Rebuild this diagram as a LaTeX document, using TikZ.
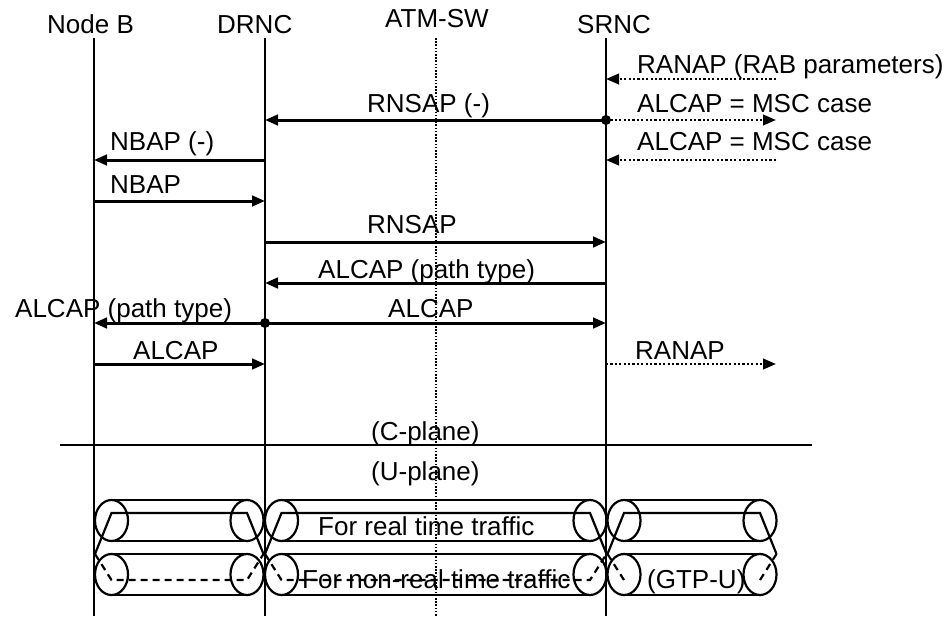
\documentclass[tikz,border=0pt]{standalone}
\usepackage{fontspec}
\setmainfont{Liberation Sans}
\usetikzlibrary{arrows.meta}
\newcommand\mycable[3]{%
  % #1 left centre x, #2 right centre x, #3 = 1 draw dashed bottom run
  \draw[tube] (#1,520.5) ellipse [x radius=16.5, y radius=20.5];
  \draw[tube] (#2,520.5) ellipse [x radius=16.5, y radius=20.5];
  \draw[tube] (#1,574.5) ellipse [x radius=16.5, y radius=20.5];
  \draw[tube] (#2,574.5) ellipse [x radius=16.5, y radius=20.5];
  \draw[tube] (#1,500) -- (#2,500);
  \draw[tube] (#1,541) -- (#2,541);
  \draw[tube] (#1,554) -- (#2,554);
  \draw[tube] (#1,595) -- (#2,595);
  \draw[tube] ({#1-16.5},554) -- (#1,513) -- (#2,513) -- ({#2+16.5},554);
  \ifnum#3=1
    \draw[tube,hid] ({#1-16.5},554) -- (#1,580) -- (#2,580) -- ({#2+16.5},554);
  \else
    \draw[tube,hid] ({#1-16.5},554) -- (#1,580);
    \draw[tube,hid] (#2,580) -- ({#2+16.5},554);
  \fi
}
\begin{document}
\begin{tikzpicture}[x=1pt,y=-1pt,
  lbl/.style={anchor=base west, inner sep=0pt, font=\fontsize{26}{30}\selectfont},
  life/.style={line width=2.3pt},
  msg/.style={line width=3pt, -{Triangle[length=13pt,width=10.5pt]}},
  dmsg/.style={line width=2.4pt, dash pattern=on 2.2pt off 2.2pt, -{Triangle[length=13pt,width=10.5pt]}},
  tube/.style={line width=2.2pt},
  hid/.style={dash pattern=on 7pt off 5pt},
  junction/.style={circle, fill=black, inner sep=0pt, minimum size=10pt},
]
\useasboundingbox (0,0) rectangle (950,616);

% headers
\node[lbl] (hNB) at (47,33) {Node B};
\node[lbl] (hDR) at (217,33) {DRNC};
\node[lbl] (hAT) at (385,27) {ATM-SW};
\node[lbl] (hSR) at (577,33) {SRNC};

% lifelines
\coordinate (nbT) at (94,38);  \coordinate (nbB) at (94,616);
\coordinate (drT) at (265,38); \coordinate (drB) at (265,616);
\coordinate (atT) at (436,38); \coordinate (atB) at (436,616);
\coordinate (srT) at (606,38); \coordinate (srB) at (606,616);
\draw[life] (nbT) -- (nbB);
\draw[life] (drT) -- (drB);
\draw[life] (srT) -- (srB);
\draw[line width=1.6pt, dash pattern=on 1.6pt off 1.6pt] (atT) -- (atB);

% row coordinates
\coordinate (r1e) at (776,79);  \coordinate (r1s) at (606,79);
\coordinate (r2s) at (606,120); \coordinate (r2d) at (265,120); \coordinate (r2e) at (776,120);
\coordinate (r3e) at (776,160); \coordinate (r3s) at (606,160);
\coordinate (r3d) at (265,160); \coordinate (r3n) at (94,160);
\coordinate (r4n) at (94,201);  \coordinate (r4d) at (265,201);
\coordinate (r5d) at (265,242); \coordinate (r5s) at (606,242);
\coordinate (r6s) at (606,283); \coordinate (r6d) at (265,283);
\coordinate (r7d) at (265,323); \coordinate (r7n) at (94,323); \coordinate (r7s) at (606,323);
\coordinate (r8n) at (94,364);  \coordinate (r8d) at (265,364);
\coordinate (r8s) at (606,364); \coordinate (r8e) at (776,364);

% messages
\draw[dmsg] (r1e) -- (r1s);
\node[lbl] (l1) at (637,73) {RANAP (RAB parameters)};
\draw[msg] (r2s) -- (r2d);
\node[lbl] (l2) at (367,112) {RNSAP (-)};
\draw[dmsg] (r2s) -- (r2e);
\node[lbl] (l3) at (637,112) {ALCAP = MSC case};
\draw[dmsg] (r3e) -- (r3s);
\node[lbl] (l4) at (637,150) {ALCAP = MSC case};
\draw[msg] (r3d) -- (r3n);
\node[lbl] (l5) at (110,150) {NBAP (-)};
\draw[msg] (r4n) -- (r4d);
\node[lbl] (l6) at (110,193) {NBAP};
\draw[msg] (r5d) -- (r5s);
\node[lbl] (l7) at (367,233) {RNSAP};
\draw[msg] (r6s) -- (r6d);
\node[lbl] (l8) at (318,278) {ALCAP (path type)};
\draw[msg] (r7d) -- (r7n);
\node[lbl] (l9) at (15,317) {ALCAP (path type)};
\draw[msg] (r7d) -- (r7s);
\node[lbl] (l10) at (388,317) {ALCAP};
\draw[msg] (r8n) -- (r8d);
\node[lbl] (l11) at (133,359) {ALCAP};
\draw[dmsg] (r8s) -- (r8e);
\node[lbl] (l12) at (635,359) {RANAP};

\node[junction] (j1) at (r2s) {};
\node[junction] (j2) at (r7d) {};

% plane separator
\coordinate (sepL) at (60,445); \coordinate (sepR) at (812,445);
\draw[line width=2.3pt] (sepL) -- (sepR);
\node[lbl] (cpl) at (371,440) {(C-plane)};
\node[lbl] (upl) at (371,480) {(U-plane)};

% cables
\mycable{111.5}{247}{1}
\mycable{281.5}{590}{1}
\mycable{624}{760}{0}
\node[lbl] (t1) at (318,535) {For real time traffic};
\node[lbl] (t2) at (302,588) {For non-real time traffic};
\node[lbl] (t3) at (647,588) {(GTP-U)};
\end{tikzpicture}
\end{document}
